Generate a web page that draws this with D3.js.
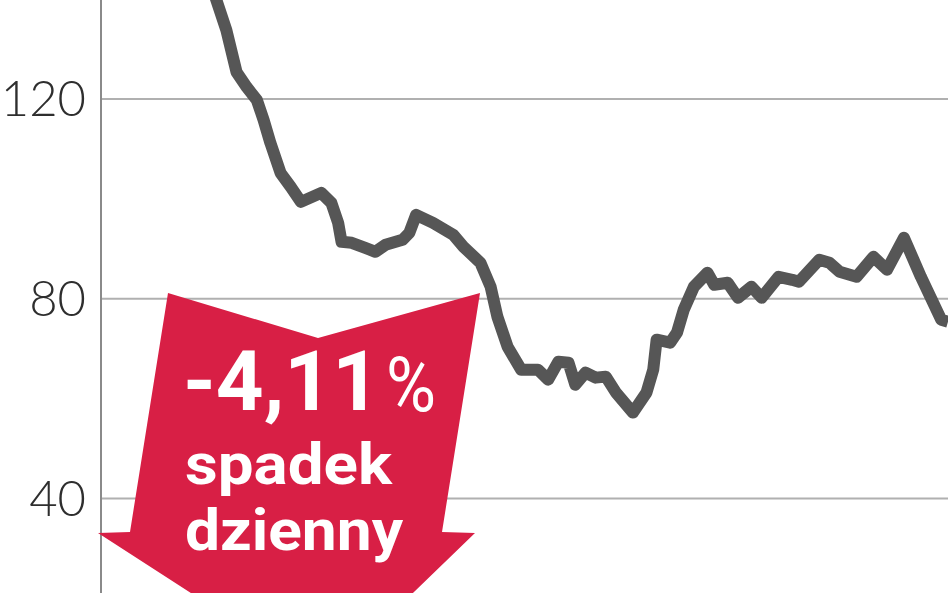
<!DOCTYPE html>
<html><head><meta charset="utf-8">
<script src="https://cdn.jsdelivr.net/npm/d3@7"></script>
<style>
html,body{margin:0;padding:0;background:#fff;}
svg{display:block;}
</style></head>
<body>
<svg id="chart" width="948" height="593"></svg>
<script>
// Data: trading-day index and price
const days   = [32, 37, 40, 43, 46, 48, 50, 53, 56, 59, 65, 68, 70, 71, 74, 78, 81, 84, 89, 91, 93, 98, 104, 107, 112, 115, 117, 120, 124, 129, 132, 135, 138, 140, 143, 146, 149, 152, 157, 161, 163, 164, 168, 170, 172, 175, 179, 181, 185, 188, 192, 195, 200, 204, 206, 212, 215, 218, 223, 228, 232, 237, 242, 248, 250];
const prices = [144, 133.8, 125.4, 122.4, 119.8, 115.8, 111.2, 105.2, 102.4, 99.4, 101.2, 99.2, 95.2, 91.4, 91.2, 90.2, 89.4, 90.8, 91.8, 93.2, 96.8, 95.2, 92.8, 90.4, 87.2, 82.4, 76.4, 70.4, 65.8, 65.8, 63.8, 67.4, 67.2, 62.8, 65.2, 64.2, 64.4, 61.2, 57.2, 61.2, 65.8, 71.8, 71.2, 73.2, 77.8, 82.4, 85.2, 82.8, 83.2, 80.2, 82.4, 80.2, 84.4, 83.8, 83.4, 87.8, 87.2, 85.4, 84.4, 88.4, 85.8, 92.2, 84.4, 75.8, 75.4];
const yTicks = [40, 80, 120];
const tickLabels = ["40", "80", "120"];
const changeLabel = "-4,11";
const pctLabel = "%";
const noteLines = ["spadek", "dzienny"];

const svg = d3.select("#chart");
const W = 948, H = 593;
const x = d3.scaleLinear().domain([0, 250]).range([101, 948]);
const y = d3.scaleLinear().domain([40, 120]).range([498.5, 99]);

// gridlines
svg.append("g").selectAll("line").data(yTicks).join("line")
  .attr("x1", 101).attr("x2", W)
  .attr("y1", d => y(d)).attr("y2", d => y(d))
  .attr("stroke", "#b0b0b0").attr("stroke-width", 2);

// vertical axis
svg.append("line").attr("x1", 101).attr("x2", 101).attr("y1", 0).attr("y2", H)
  .attr("stroke", "#8a8a8a").attr("stroke-width", 2);

// tick labels
svg.append("g").selectAll("text").data(yTicks).join("text")
  .attr("x", 86).attr("y", d => y(d) + 17)
  .attr("text-anchor", "end")
  .attr("font-family", "Lato, 'Open Sans', sans-serif")
  .attr("font-weight", 300)
  .attr("font-size", 49)
  .attr("fill", "#2e2e2e")
  .text((d, i) => tickLabels[i]);

// annotation arrow
const arrow = [[168,293],[318,338],[480,293],[442,532],[475,533],[324,679],[98,533],[130,532]];
svg.append("polygon")
  .attr("points", arrow.map(p => p.join(",")).join(" "))
  .attr("fill", "#d81f45");

const tf = "Roboto, 'DejaVu Sans', sans-serif";
svg.append("text").attr("x", 183).attr("y", 410)
  .attr("font-family", tf).attr("font-weight", 700).attr("font-size", 84)
  .attr("fill", "#fff").attr("textLength", 197).attr("lengthAdjust", "spacingAndGlyphs")
  .text(changeLabel);
svg.append("text").attr("x", 386).attr("y", 411)
  .attr("font-family", tf).attr("font-weight", 400).attr("font-size", 76)
  .attr("fill", "#fff").attr("textLength", 50).attr("lengthAdjust", "spacingAndGlyphs")
  .text(pctLabel);
svg.append("text").attr("x", 185).attr("y", 484)
  .attr("font-family", tf).attr("font-weight", 700).attr("font-size", 58)
  .attr("fill", "#fff").attr("textLength", 207).attr("lengthAdjust", "spacingAndGlyphs")
  .text(noteLines[0]);
svg.append("text").attr("x", 185).attr("y", 550)
  .attr("font-family", tf).attr("font-weight", 700).attr("font-size", 57)
  .attr("fill", "#fff").attr("textLength", 218).attr("lengthAdjust", "spacingAndGlyphs")
  .text(noteLines[1]);

// price line
const data = days.map((d, i) => ({d, v: prices[i]}));
const line = d3.line().x(p => x(p.d)).y(p => y(p.v));
svg.append("path").datum(data)
  .attr("d", line)
  .attr("fill", "none")
  .attr("stroke", "#565656")
  .attr("stroke-width", 12)
  .attr("stroke-linejoin", "round")
  .attr("stroke-linecap", "butt");
</script>
</body></html>
